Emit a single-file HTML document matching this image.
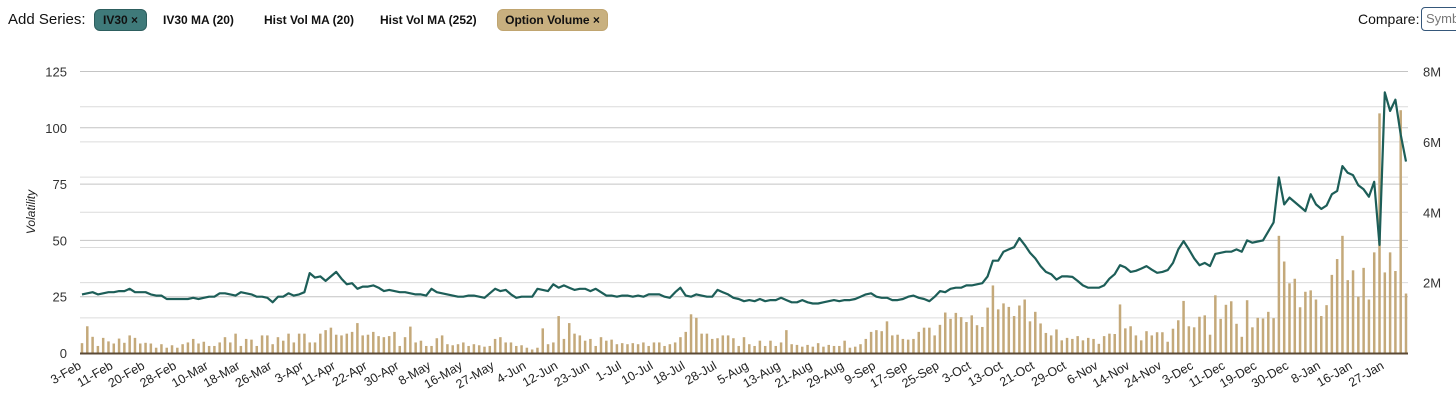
<!DOCTYPE html>
<html><head><meta charset="utf-8"><style>
body{margin:0;width:1456px;height:401px;background:#fff;font-family:"Liberation Sans",sans-serif;overflow:hidden;position:relative}
.hdr{position:absolute;top:11px;left:8px;font-size:15px;color:#111;white-space:nowrap}
.pill{position:absolute;top:9px;height:22px;line-height:20px;border-radius:6px;font-size:12px;font-weight:bold;padding:0;box-sizing:border-box;color:#111;white-space:nowrap;text-align:center}
.plain{position:absolute;top:9px;line-height:22px;font-size:12px;font-weight:bold;color:#111;white-space:nowrap}
</style></head><body>
<div class="hdr">Add Series:</div>
<div class="pill" style="left:94px;width:53px;background:#3f7a7a;border:1px solid #2d5e5e">IV30 ×</div>
<div class="plain" style="left:163px">IV30 MA (20)</div>
<div class="plain" style="left:264px">Hist Vol MA (20)</div>
<div class="plain" style="left:380px">Hist Vol MA (252)</div>
<div class="pill" style="left:497px;width:111px;background:#c8b07f;border:1px solid #c0a570">Option Volume ×</div>
<div style="position:absolute;top:11px;left:1358px;font-size:14px;color:#111;white-space:nowrap">Compare:</div>
<div style="position:absolute;top:7px;left:1421px;width:40px;height:24px;border:1px solid #35577a;border-radius:4px;box-sizing:border-box;font-size:13px;line-height:22px;color:#777;padding:0 0 0 4px;overflow:hidden;white-space:nowrap">Symbol</div>
<svg id="chart" width="1456" height="401" style="position:absolute;left:0;top:0"></svg>
<script>
const iv30=[26,26.5,27,26,26.5,27,27,27.5,27.5,28.5,27,27,27,26,25.5,25.5,24,24,24,24,24,24.5,24,24.5,25,25,26.5,26.5,26,25.5,27,26.5,26,25,25,24.5,22.5,25,25,26.5,25.5,26,27,35.5,33.5,34,32,34,36,33,30.5,31,28.5,29.5,29.5,30,29,27.5,28,27.5,27,27,26.5,26,26,25.5,28.5,27,26.5,26,25.5,25,25,25.5,25.5,25,24.5,26.5,28.5,27.5,28,26,24.5,25,25,25,28.5,28,27.5,30.5,29,30,29,28,28.5,28.5,27.5,28.5,27,25.5,25.5,25,25.5,25.5,25,25.5,25,26,26,26,25,24.5,27,29,25.5,25,26,25.5,25,25,28,27,26,24.5,24,23,23.5,23,24,23,23.5,23.5,24.5,23.5,22.5,22.5,23.5,22.5,22,22,22.5,23,23.5,23,23.5,23.5,24,25,26,26.5,25,24.5,24.5,23.5,23.5,24,25,25.5,24.5,24,23,25,27.5,27,28.5,29,29,30,30,30.5,31,34,41,41,45,46,47,51,48,44.5,42,38.6,36,35,32.6,34,34,33.8,32,30,29,29,29,30,33,35,39,38,36,36.5,37.5,38.6,37,35.6,36,36.8,40,46,49.7,46,42,39,40,38.6,44,44.5,45,45,46,45,50,49,49.5,50,54,58,78,66,69,67,65,63,70.5,66,64,65.5,70.5,72,83,80,79,74.5,72.7,69.4,76,48,115.7,107.5,112.5,97,85];
const volumeM=[.28,.76,.46,.2,.43,.33,.27,.41,.29,.5,.43,.27,.29,.27,.15,.25,.15,.22,.15,.25,.3,.4,.27,.32,.2,.2,.3,.45,.3,.55,.2,.4,.38,.2,.5,.5,.25,.45,.35,.55,.3,.55,.55,.3,.3,.55,.65,.72,.52,.5,.55,.6,.85,.5,.52,.6,.48,.45,.48,.6,.2,.45,.75,.3,.35,.2,.2,.42,.5,.25,.22,.25,.3,.2,.25,.22,.18,.2,.4,.45,.3,.3,.2,.22,.15,.1,.15,.7,.25,.3,1.05,.4,.85,.55,.5,.35,.4,.2,.45,.35,.38,.25,.28,.25,.28,.25,.3,.2,.3,.3,.2,.25,.3,.45,.6,1.1,1,.55,.55,.4,.42,.5,.5,.42,.2,.45,.25,.2,.35,.2,.35,.2,.3,.65,.25,.23,.18,.23,.18,.28,.18,.23,.2,.2,.35,.15,.18,.25,.4,.6,.65,.62,.9,.5,.52,.4,.38,.4,.6,.72,.72,.5,.8,1.15,.97,1.14,1.02,.88,1.07,.79,.74,1.29,1.92,1.24,1.41,1.31,1.05,1.35,1.52,.9,1.17,.84,.57,.5,.67,.36,.43,.4,.48,.36,.43,.4,.26,.48,.55,.54,1.38,.7,.76,.5,.36,.62,.5,.59,.59,.32,.69,.93,1.48,.76,.73,1.03,1.07,.52,1.64,.97,1.37,1.47,.83,.46,1.5,.73,1,.98,1.17,.99,3.33,2.6,1.98,2.11,1.3,1.74,1.78,1.52,1.05,1.36,2.22,2.67,3.33,2.07,2.35,1.6,2.42,1.52,2.86,6.81,2.29,2.86,2.33,6.9,1.69];
const dateLabels=["3-Feb","11-Feb","20-Feb","28-Feb","10-Mar","18-Mar","26-Mar","3-Apr","11-Apr","22-Apr","30-Apr","8-May","16-May","27-May","4-Jun","12-Jun","23-Jun","1-Jul","10-Jul","18-Jul","28-Jul","5-Aug","13-Aug","21-Aug","29-Aug","9-Sep","17-Sep","25-Sep","3-Oct","13-Oct","21-Oct","29-Oct","6-Nov","14-Nov","24-Nov","3-Dec","11-Dec","19-Dec","30-Dec","8-Jan","16-Jan","27-Jan"];
const leftTicks=[0,25,50,75,100,125];
const rightTicks=[0,1,2,3,4,5,6,7,8];
const rightTickLabels=["0","","2M","","4M","","6M","","8M"];

const NS="http://www.w3.org/2000/svg",svg=document.getElementById('chart');
const X0=82,X1=1406,Y0=353,Y1=71.5;
const n=iv30.length;
const xs=i=>X0+(X1-X0)*i/(n-1);
const yL=v=>Y0-(Y0-Y1)*v/125;
const yR=v=>Y0-(Y0-Y1)*v/8;
function mk(t,a,p){const e=document.createElementNS(NS,t);for(const k in a)e.setAttribute(k,a[k]);(p||svg).appendChild(e);return e;}
rightTicks.forEach((t,i)=>{if(t===0)return;const g=mk('line',{x1:80,x2:1408,y1:yR(t),y2:yR(t),stroke:'#dcdcdc','stroke-width':1});


if(rightTickLabels[i]){const l=mk('text',{x:1423,y:yR(t)+5,'font-size':13,fill:'#333','font-family':'Liberation Sans'});l.textContent=rightTickLabels[i];

}});
leftTicks.forEach(t=>{if(t>0){const g=mk('line',{x1:80,x2:1408,y1:yL(t),y2:yL(t),stroke:'#c4c4c4','stroke-width':1});

}
const l=mk('text',{x:67,y:yL(t)+5,'font-size':13,fill:'#333','text-anchor':'end','font-family':'Liberation Sans'});l.textContent=t;

});
volumeM.forEach((v,i)=>{const b=mk('rect',{x:xs(i)-1.25,y:yR(v),width:2.5,height:Y0-yR(v),fill:'#c4a97a'});

});
const base=mk('line',{x1:80,x2:1408,y1:Y0+0.5,y2:Y0+0.5,stroke:'#5b4a35','stroke-width':2});


const ln=mk('polyline',{points:iv30.map((v,i)=>xs(i).toFixed(1)+','+yL(v).toFixed(1)).join(' '),fill:'none',stroke:'#1d5e58','stroke-width':2.2,'stroke-linejoin':'round'});


dateLabels.forEach((d,i)=>{const x=xs(i*6);const t=mk('text',{x:x,y:368,'font-size':12.5,fill:'#222','text-anchor':'end','font-family':'Liberation Sans',transform:`rotate(-30 ${x} 368)`});t.textContent=d;

});
const yt=mk('text',{x:35,y:212,'font-size':12,fill:'#222','font-style':'italic','text-anchor':'middle','font-family':'Liberation Sans',transform:'rotate(-90 35 212)'});yt.textContent='Volatility';


</script>
</body></html>
